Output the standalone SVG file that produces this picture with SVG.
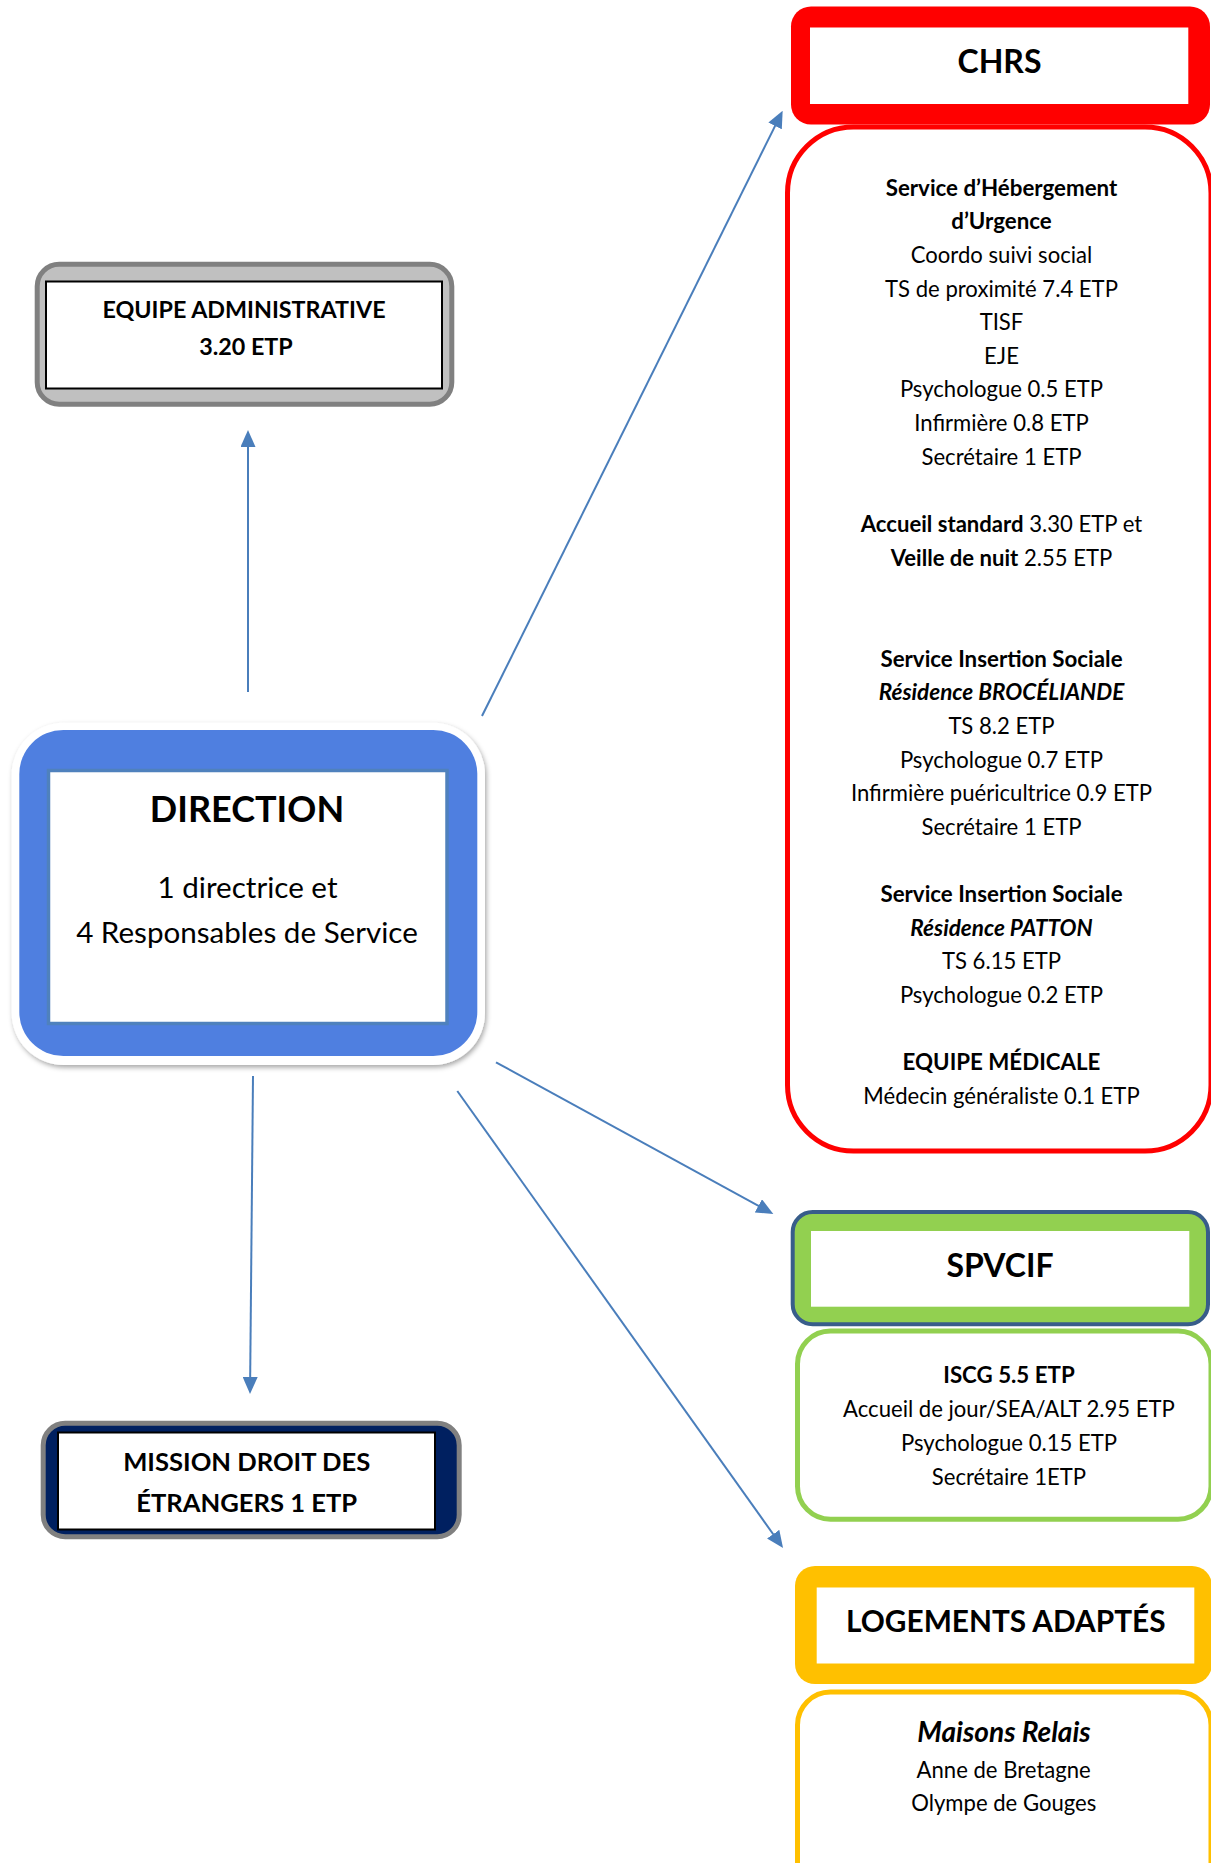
<svg xmlns="http://www.w3.org/2000/svg" width="1211" height="1863" viewBox="0 0 1211 1863">
<defs>
<style>
text{font-family:Lato,"Liberation Sans",sans-serif;fill:#000;text-anchor:middle}
.b{font-weight:bold}
.bi{font-weight:bold;font-style:italic}
.t{font-size:22.1px}
.t.b{font-size:22.3px}
.t.bi{font-size:22.5px}
.conn{stroke:#4a7ebb;stroke-width:2;fill:none;marker-end:url(#ah)}
</style>
<marker id="ah" viewBox="0 0 17 15" markerUnits="userSpaceOnUse" markerWidth="17" markerHeight="15" refX="9" refY="7.5" orient="auto">
<path d="M0,0 L17,7.5 L0,15 z" fill="#4a7ebb"/>
</marker>
<filter id="sh" x="-10%" y="-10%" width="120%" height="120%">
<feDropShadow dx="1.5" dy="2.5" stdDeviation="2.5" flood-color="#000" flood-opacity="0.35"/>
</filter>
</defs>
<rect width="1211" height="1863" fill="#fff"/>

<g id="connectors">
<line class="conn" x1="482" y1="716" x2="779.1" y2="117.9"/>
<line class="conn" x1="248" y1="692" x2="248" y2="438"/>
<line class="conn" x1="253" y1="1076" x2="250.1" y2="1386"/>
<line class="conn" x1="496" y1="1062.3" x2="766.3" y2="1210.2"/>
<line class="conn" x1="457.3" y1="1091" x2="778.4" y2="1541.5"/>
</g>

<g id="admin">
<rect x="37.2" y="264.2" width="414.6" height="140" rx="22" fill="#c0c0c0" stroke="#808080" stroke-width="5"/>
<rect x="46" y="281.5" width="396" height="107" fill="#fff" stroke="#000" stroke-width="2"/>
<text class="b" x="244" y="318" font-size="23.3">EQUIPE ADMINISTRATIVE</text>
<text class="b" x="246" y="355" font-size="23.3">3.20 ETP</text>
</g>

<g id="direction">
<rect x="11.7" y="722.7" width="473.3" height="342.3" rx="52" fill="#fff" filter="url(#sh)"/>
<rect x="19.3" y="730" width="458" height="326" rx="44" fill="#4f7fe0"/>
<rect x="48.5" y="770.5" width="398.5" height="253" fill="#fff" stroke="#4f81bd" stroke-width="3.5"/>
<text class="b" x="247" y="821.7" font-size="36">DIRECTION</text>
<text x="247.5" y="898.3" font-size="29.6">1 directrice et</text>
<text x="247" y="942.7" font-size="29.6">4 Responsables de Service</text>
</g>

<g id="mission">
<rect x="43.2" y="1423.2" width="416" height="113.6" rx="22" fill="#002060" stroke="#808080" stroke-width="5"/>
<rect x="58" y="1432.5" width="377" height="97" fill="#fff" stroke="#000" stroke-width="2"/>
<text class="b" x="246.7" y="1470.7" font-size="25.6">MISSION DROIT DES</text>
<text class="b" x="246.7" y="1511.7" font-size="25.6">ÉTRANGERS 1 ETP</text>
</g>

<g id="chrs">
<rect x="791" y="6.5" width="419" height="118" rx="20" fill="#ff0000"/>
<rect x="810" y="27.5" width="378.3" height="76.5" fill="#fff"/>
<text class="b" x="999.5" y="72.7" font-size="32">CHRS</text>
</g>

<g id="chrs-detail">
<rect x="787.5" y="127" width="423.5" height="1024" rx="66" fill="#fff" stroke="#ff0000" stroke-width="5"/>
<text class="t b" x="1001.5" y="195.5">Service d’Hébergement</text>
<text class="t b" x="1001.5" y="229.2">d’Urgence</text>
<text class="t" x="1001.5" y="262.8">Coordo suivi social</text>
<text class="t" x="1001.5" y="296.5">TS de proximité 7.4 ETP</text>
<text class="t" x="1001.5" y="330.1">TISF</text>
<text class="t" x="1001.5" y="363.8">EJE</text>
<text class="t" x="1001.5" y="397.4">Psychologue 0.5 ETP</text>
<text class="t" x="1001.5" y="431.1">Infirmière 0.8 ETP</text>
<text class="t" x="1001.5" y="464.7">Secrétaire 1 ETP</text>
<text class="t" x="1001.5" y="532"><tspan class="b">Accueil standard</tspan> 3.30 ETP et</text>
<text class="t" x="1001.5" y="565.6"><tspan class="b">Veille de nuit</tspan> 2.55 ETP</text>
<text class="t b" x="1001.5" y="666.6">Service Insertion Sociale</text>
<text class="t bi" x="1001.5" y="700.2">Résidence BROCÉLIANDE</text>
<text class="t" x="1001.5" y="733.9">TS 8.2 ETP</text>
<text class="t" x="1001.5" y="767.5">Psychologue 0.7 ETP</text>
<text class="t" x="1001.5" y="801.2">Infirmière puéricultrice 0.9 ETP</text>
<text class="t" x="1001.5" y="834.8">Secrétaire 1 ETP</text>
<text class="t b" x="1001.5" y="902.1">Service Insertion Sociale</text>
<text class="t bi" x="1001.5" y="935.8">Résidence PATTON</text>
<text class="t" x="1001.5" y="969.4">TS 6.15 ETP</text>
<text class="t" x="1001.5" y="1003.1">Psychologue 0.2 ETP</text>
<text class="t b" x="1001.5" y="1070.4">EQUIPE MÉDICALE</text>
<text class="t" x="1001.5" y="1104">Médecin généraliste 0.1 ETP</text>
</g>

<g id="spvcif">
<rect x="792.7" y="1212" width="415.3" height="112.2" rx="20" fill="#92d050" stroke="#385d8a" stroke-width="4"/>
<rect x="811" y="1231" width="378.3" height="75.7" fill="#fff"/>
<text class="b" x="1000" y="1277.3" font-size="32">SPVCIF</text>
</g>

<g id="spvcif-detail">
<rect x="797.5" y="1331" width="413.5" height="188.2" rx="33" fill="#fff" stroke="#92d050" stroke-width="5"/>
<text class="t b" x="1009" y="1383.3">ISCG 5.5 ETP</text>
<text class="t" x="1009" y="1417.4">Accueil de jour/SEA/ALT 2.95 ETP</text>
<text class="t" x="1009" y="1451.3">Psychologue 0.15 ETP</text>
<text class="t" x="1009" y="1485.2">Secrétaire 1ETP</text>
</g>

<g id="logements">
<rect x="795" y="1566" width="417" height="118" rx="20" fill="#ffc000"/>
<rect x="816.7" y="1587.5" width="377.6" height="76" fill="#fff"/>
<text class="b" x="1005.8" y="1631.7" font-size="29.8">LOGEMENTS ADAPTÉS</text>
</g>

<g id="logements-detail">
<rect x="797.5" y="1692" width="413.5" height="220" rx="33" fill="#fff" stroke="#ffc000" stroke-width="5"/>
<text class="bi" x="1004" y="1741.7" font-size="28">Maisons Relais</text>
<text class="t" x="1003.7" y="1777.7">Anne de Bretagne</text>
<text class="t" x="1003.8" y="1810.7">Olympe de Gouges</text>
</g>
</svg>
